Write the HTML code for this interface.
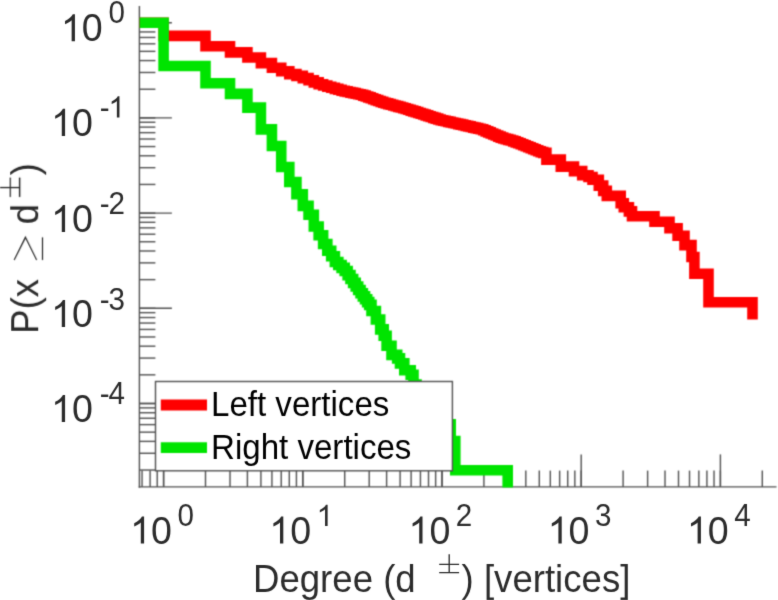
<!DOCTYPE html>
<html><head><meta charset="utf-8"><title>Degree distribution</title>
<style>
html,body{margin:0;padding:0;background:#fff;}
body{width:778px;height:600px;overflow:hidden;}
svg{display:block;}
text{font-family:"Liberation Sans",sans-serif;}
</style></head><body>
<svg width="778" height="600" viewBox="0 0 778 600">
<defs><filter id="soft" x="-5%" y="-5%" width="110%" height="110%" color-interpolation-filters="sRGB"><feConvolveMatrix order="3" kernelMatrix="0.03607 0.11778 0.03607 0.11778 0.38462 0.11778 0.03607 0.11778 0.03607" edgeMode="none" preserveAlpha="false"/></filter><filter id="softT" x="-5%" y="-5%" width="110%" height="110%" color-interpolation-filters="sRGB"><feConvolveMatrix order="3" kernelMatrix="0.01134 0.08382 0.01134 0.08382 0.61935 0.08382 0.01134 0.08382 0.01134" edgeMode="none" preserveAlpha="false"/></filter><clipPath id="plot"><rect x="139.4" y="0" width="638.6" height="487.5"/></clipPath></defs>
<rect x="0" y="0" width="778" height="600" fill="#fff"/>
<g filter="url(#soft)">
<g stroke="#505050" stroke-width="1.4" fill="none">
<line x1="139.40" x2="171.90" y1="22.70" y2="22.70"/>
<line x1="139.40" x2="171.90" y1="117.90" y2="117.90"/>
<line x1="139.40" x2="171.90" y1="213.10" y2="213.10"/>
<line x1="139.40" x2="171.90" y1="308.30" y2="308.30"/>
<line x1="139.40" x2="171.90" y1="403.50" y2="403.50"/>
<line x1="139.40" x2="155.40" y1="22.70" y2="22.70"/>
<line x1="139.40" x2="155.40" y1="117.90" y2="117.90"/>
<line x1="139.40" x2="155.40" y1="89.24" y2="89.24"/>
<line x1="139.40" x2="155.40" y1="72.48" y2="72.48"/>
<line x1="139.40" x2="155.40" y1="60.58" y2="60.58"/>
<line x1="139.40" x2="155.40" y1="51.36" y2="51.36"/>
<line x1="139.40" x2="155.40" y1="43.82" y2="43.82"/>
<line x1="139.40" x2="155.40" y1="37.45" y2="37.45"/>
<line x1="139.40" x2="155.40" y1="31.93" y2="31.93"/>
<line x1="139.40" x2="155.40" y1="27.06" y2="27.06"/>
<line x1="139.40" x2="155.40" y1="213.10" y2="213.10"/>
<line x1="139.40" x2="155.40" y1="184.44" y2="184.44"/>
<line x1="139.40" x2="155.40" y1="167.68" y2="167.68"/>
<line x1="139.40" x2="155.40" y1="155.78" y2="155.78"/>
<line x1="139.40" x2="155.40" y1="146.56" y2="146.56"/>
<line x1="139.40" x2="155.40" y1="139.02" y2="139.02"/>
<line x1="139.40" x2="155.40" y1="132.65" y2="132.65"/>
<line x1="139.40" x2="155.40" y1="127.13" y2="127.13"/>
<line x1="139.40" x2="155.40" y1="122.26" y2="122.26"/>
<line x1="139.40" x2="155.40" y1="308.30" y2="308.30"/>
<line x1="139.40" x2="155.40" y1="279.64" y2="279.64"/>
<line x1="139.40" x2="155.40" y1="262.88" y2="262.88"/>
<line x1="139.40" x2="155.40" y1="250.98" y2="250.98"/>
<line x1="139.40" x2="155.40" y1="241.76" y2="241.76"/>
<line x1="139.40" x2="155.40" y1="234.22" y2="234.22"/>
<line x1="139.40" x2="155.40" y1="227.85" y2="227.85"/>
<line x1="139.40" x2="155.40" y1="222.33" y2="222.33"/>
<line x1="139.40" x2="155.40" y1="217.46" y2="217.46"/>
<line x1="139.40" x2="155.40" y1="403.50" y2="403.50"/>
<line x1="139.40" x2="155.40" y1="374.84" y2="374.84"/>
<line x1="139.40" x2="155.40" y1="358.08" y2="358.08"/>
<line x1="139.40" x2="155.40" y1="346.18" y2="346.18"/>
<line x1="139.40" x2="155.40" y1="336.96" y2="336.96"/>
<line x1="139.40" x2="155.40" y1="329.42" y2="329.42"/>
<line x1="139.40" x2="155.40" y1="323.05" y2="323.05"/>
<line x1="139.40" x2="155.40" y1="317.53" y2="317.53"/>
<line x1="139.40" x2="155.40" y1="312.66" y2="312.66"/>
<line x1="139.40" x2="155.40" y1="470.04" y2="470.04"/>
<line x1="139.40" x2="155.40" y1="453.28" y2="453.28"/>
<line x1="139.40" x2="155.40" y1="441.38" y2="441.38"/>
<line x1="139.40" x2="155.40" y1="432.16" y2="432.16"/>
<line x1="139.40" x2="155.40" y1="424.62" y2="424.62"/>
<line x1="139.40" x2="155.40" y1="418.25" y2="418.25"/>
<line x1="139.40" x2="155.40" y1="412.73" y2="412.73"/>
<line x1="139.40" x2="155.40" y1="407.86" y2="407.86"/>
<line x1="163.60" x2="163.60" y1="486.90" y2="454.40"/>
<line x1="302.80" x2="302.80" y1="486.90" y2="454.40"/>
<line x1="442.00" x2="442.00" y1="486.90" y2="454.40"/>
<line x1="581.20" x2="581.20" y1="486.90" y2="454.40"/>
<line x1="720.40" x2="720.40" y1="486.90" y2="454.40"/>
<line x1="142.04" x2="142.04" y1="486.90" y2="470.60"/>
<line x1="150.11" x2="150.11" y1="486.90" y2="470.60"/>
<line x1="157.23" x2="157.23" y1="486.90" y2="470.60"/>
<line x1="163.60" x2="163.60" y1="486.90" y2="470.60"/>
<line x1="205.50" x2="205.50" y1="486.90" y2="470.60"/>
<line x1="230.02" x2="230.02" y1="486.90" y2="470.60"/>
<line x1="247.41" x2="247.41" y1="486.90" y2="470.60"/>
<line x1="260.90" x2="260.90" y1="486.90" y2="470.60"/>
<line x1="271.92" x2="271.92" y1="486.90" y2="470.60"/>
<line x1="281.24" x2="281.24" y1="486.90" y2="470.60"/>
<line x1="289.31" x2="289.31" y1="486.90" y2="470.60"/>
<line x1="296.43" x2="296.43" y1="486.90" y2="470.60"/>
<line x1="302.80" x2="302.80" y1="486.90" y2="470.60"/>
<line x1="344.70" x2="344.70" y1="486.90" y2="470.60"/>
<line x1="369.22" x2="369.22" y1="486.90" y2="470.60"/>
<line x1="386.61" x2="386.61" y1="486.90" y2="470.60"/>
<line x1="400.10" x2="400.10" y1="486.90" y2="470.60"/>
<line x1="411.12" x2="411.12" y1="486.90" y2="470.60"/>
<line x1="420.44" x2="420.44" y1="486.90" y2="470.60"/>
<line x1="428.51" x2="428.51" y1="486.90" y2="470.60"/>
<line x1="435.63" x2="435.63" y1="486.90" y2="470.60"/>
<line x1="442.00" x2="442.00" y1="486.90" y2="470.60"/>
<line x1="483.90" x2="483.90" y1="486.90" y2="470.60"/>
<line x1="508.42" x2="508.42" y1="486.90" y2="470.60"/>
<line x1="525.81" x2="525.81" y1="486.90" y2="470.60"/>
<line x1="539.30" x2="539.30" y1="486.90" y2="470.60"/>
<line x1="550.32" x2="550.32" y1="486.90" y2="470.60"/>
<line x1="559.64" x2="559.64" y1="486.90" y2="470.60"/>
<line x1="567.71" x2="567.71" y1="486.90" y2="470.60"/>
<line x1="574.83" x2="574.83" y1="486.90" y2="470.60"/>
<line x1="581.20" x2="581.20" y1="486.90" y2="470.60"/>
<line x1="623.10" x2="623.10" y1="486.90" y2="470.60"/>
<line x1="647.62" x2="647.62" y1="486.90" y2="470.60"/>
<line x1="665.01" x2="665.01" y1="486.90" y2="470.60"/>
<line x1="678.50" x2="678.50" y1="486.90" y2="470.60"/>
<line x1="689.52" x2="689.52" y1="486.90" y2="470.60"/>
<line x1="698.84" x2="698.84" y1="486.90" y2="470.60"/>
<line x1="706.91" x2="706.91" y1="486.90" y2="470.60"/>
<line x1="714.03" x2="714.03" y1="486.90" y2="470.60"/>
<line x1="720.40" x2="720.40" y1="486.90" y2="470.60"/>
<line x1="762.30" x2="762.30" y1="486.90" y2="470.60"/>
<line x1="139.4" x2="139.4" y1="6.0" y2="487.65"/>
<line x1="138.65" x2="776.5" y1="486.9" y2="486.9"/>
</g>
<g clip-path="url(#plot)" fill="none" stroke-width="10.6" stroke-linejoin="miter" stroke-linecap="butt">
<path d="M139.40 22.70 V22.70 H163.60 V35.90 H205.50 V46.20 H230.02 V52.40 H247.41 V57.50 H260.90 V63.10 H271.92 V67.80 H281.24 V71.30 H289.31 V74.11 H296.43 V75.90 H302.80 V78.12 H308.56 V80.32 H313.82 V82.33 H318.66 V84.18 H323.14 V85.53 H327.31 V86.70 H331.21 V87.80 H334.88 V88.84 H338.33 V89.82 H341.60 V90.69 H344.70 V91.35 H347.65 V91.98 H350.47 V92.59 H353.15 V93.16 H355.73 V93.72 H358.23 V94.27 H360.73 V94.82 H363.23 V95.60 H365.73 V96.50 H368.23 V97.40 H370.73 V98.30 H373.23 V99.19 H375.73 V100.09 H378.23 V100.99 H380.73 V101.89 H383.23 V102.70 H385.73 V103.39 H388.23 V104.08 H390.73 V104.77 H393.23 V105.46 H395.73 V106.16 H398.23 V106.85 H400.73 V107.54 H403.23 V108.25 H405.73 V109.03 H408.23 V109.82 H410.73 V110.60 H413.23 V111.38 H415.73 V112.16 H418.23 V112.95 H420.73 V113.75 H423.23 V114.57 H425.73 V115.38 H428.23 V116.20 H430.73 V117.02 H433.23 V117.83 H435.73 V118.65 H438.23 V119.47 H440.73 V120.20 H443.23 V120.75 H445.73 V121.31 H448.23 V121.87 H450.73 V122.43 H453.23 V122.99 H455.73 V123.54 H458.23 V124.10 H460.73 V124.66 H463.23 V125.25 H465.73 V125.83 H468.23 V126.41 H470.73 V126.99 H473.23 V127.58 H475.73 V128.16 H478.23 V128.74 H480.73 V129.32 H483.23 V130.31 H485.73 V131.36 H488.23 V132.41 H490.73 V133.46 H493.23 V134.51 H495.73 V135.56 H498.23 V136.61 H500.73 V137.65 H503.23 V138.46 H505.73 V139.16 H508.23 V139.85 H510.73 V140.54 H513.23 V141.40 H515.73 V142.36 H518.23 V143.32 H520.73 V144.27 H523.23 V145.23 H525.73 V146.22 H528.23 V147.23 H530.73 V148.25 H533.23 V149.25 H535.73 V150.25 H538.23 V151.25 H540.73 V152.16 H543.23 V152.92 H546.40 V159.60 H560.80 V166.60 H574.00 V171.10 H582.20 V175.20 H588.50 V177.00 H592.50 V179.80 H598.80 V185.60 H603.20 V190.90 H606.80 V195.90 H620.70 V203.20 H623.80 V207.30 H628.90 V211.40 H632.00 V216.30 H654.50 V221.80 H669.50 V228.20 H677.60 V235.80 H684.50 V245.10 H691.50 V257.00 H694.40 V273.70 H708.50 V302.30 H752.50 V319.60" stroke="#ff0000"/>
<path d="M139.40 22.70 V22.70 H163.60 V66.00 H205.50 V83.20 H230.02 V93.90 H247.41 V107.60 H260.90 V129.40 H271.92 V146.00 H281.24 V167.00 H289.31 V182.00 H296.43 V194.20 H302.80 V205.90 H308.56 V214.80 H313.82 V226.50 H318.66 V235.30 H323.14 V244.00 H327.31 V250.70 H331.21 V256.30 H334.88 V262.03 H338.33 V265.04 H341.60 V267.90 H344.70 V270.97 H347.65 V275.12 H350.47 V279.07 H353.15 V282.85 H355.73 V286.47 H358.19 V289.95 H360.56 V293.28 H362.85 V296.33 H365.04 V299.27 H367.17 V302.11 H369.22 V304.85 H371.50 V311.00 H375.90 V319.50 H380.20 V329.40 H383.70 V335.80 H386.60 V345.70 H391.50 V354.90 H397.20 V358.40 H400.00 V363.40 H404.30 V370.20 H410.70 V374.70 H413.50 V384.60 H416.50 V392.00 H425.00 V404.00 H433.00 V412.00 H442.00 V424.30 H450.70 V441.00 H455.30 V470.20 H507.70 V495.00" stroke="#00e400"/>
</g>
<!-- legend -->
<rect x="155.5" y="381.5" width="296.9" height="89.3" fill="#fff" stroke="#505050" stroke-width="1.4"/>
<line x1="160.8" x2="207" y1="405" y2="405" stroke="#ff0000" stroke-width="10.8"/>
<line x1="160.8" x2="207" y1="447.6" y2="447.6" stroke="#00e400" stroke-width="10.8"/>
</g>
<g filter="url(#softT)">
<g fill="#2c2c2c">
<path transform="translate(60.93 41.20) scale(0.01836 -0.01836)" d="M763 0H583V1147Q518 1085 412.5 1023T223 930V1104Q374 1175 487 1276T647 1472H763Z"/>
<text transform="translate(81.84 41.20) scale(1 1.040)" font-size="37.6">0</text>
<text transform="translate(108.44 23.10) scale(1 1.040)" font-size="29.6">0</text>
<path transform="translate(51.07 135.90) scale(0.01836 -0.01836)" d="M763 0H583V1147Q518 1085 412.5 1023T223 930V1104Q374 1175 487 1276T647 1472H763Z"/>
<text transform="translate(71.98 135.90) scale(1 1.040)" font-size="37.6">0</text>
<text transform="translate(99.79 117.50) scale(1 1.040)" font-size="29.6">-</text>
<path transform="translate(108.44 117.50) scale(0.01445 -0.01445)" d="M763 0H583V1147Q518 1085 412.5 1023T223 930V1104Q374 1175 487 1276T647 1472H763Z"/>
<path transform="translate(51.07 232.00) scale(0.01836 -0.01836)" d="M763 0H583V1147Q518 1085 412.5 1023T223 930V1104Q374 1175 487 1276T647 1472H763Z"/>
<text transform="translate(71.98 232.00) scale(1 1.040)" font-size="37.6">0</text>
<text transform="translate(99.79 214.00) scale(1 1.040)" font-size="29.6">-</text>
<text transform="translate(108.44 214.00) scale(1 1.040)" font-size="29.6">2</text>
<path transform="translate(51.07 327.10) scale(0.01836 -0.01836)" d="M763 0H583V1147Q518 1085 412.5 1023T223 930V1104Q374 1175 487 1276T647 1472H763Z"/>
<text transform="translate(71.98 327.10) scale(1 1.040)" font-size="37.6">0</text>
<text transform="translate(99.79 309.50) scale(1 1.040)" font-size="29.6">-</text>
<text transform="translate(108.44 309.50) scale(1 1.040)" font-size="29.6">3</text>
<path transform="translate(51.07 422.10) scale(0.01836 -0.01836)" d="M763 0H583V1147Q518 1085 412.5 1023T223 930V1104Q374 1175 487 1276T647 1472H763Z"/>
<text transform="translate(71.98 422.10) scale(1 1.040)" font-size="37.6">0</text>
<text transform="translate(99.79 403.70) scale(1 1.040)" font-size="29.6">-</text>
<text transform="translate(108.44 403.70) scale(1 1.040)" font-size="29.6">4</text>
<path transform="translate(130.10 543.50) scale(0.01836 -0.01836)" d="M763 0H583V1147Q518 1085 412.5 1023T223 930V1104Q374 1175 487 1276T647 1472H763Z"/>
<text transform="translate(151.01 543.50) scale(1 1.040)" font-size="37.6">0</text>
<text transform="translate(177.41 525.90) scale(1 1.040)" font-size="29.6">0</text>
<path transform="translate(269.30 543.50) scale(0.01836 -0.01836)" d="M763 0H583V1147Q518 1085 412.5 1023T223 930V1104Q374 1175 487 1276T647 1472H763Z"/>
<text transform="translate(290.21 543.50) scale(1 1.040)" font-size="37.6">0</text>
<path transform="translate(316.61 525.90) scale(0.01445 -0.01445)" d="M763 0H583V1147Q518 1085 412.5 1023T223 930V1104Q374 1175 487 1276T647 1472H763Z"/>
<path transform="translate(408.50 543.50) scale(0.01836 -0.01836)" d="M763 0H583V1147Q518 1085 412.5 1023T223 930V1104Q374 1175 487 1276T647 1472H763Z"/>
<text transform="translate(429.41 543.50) scale(1 1.040)" font-size="37.6">0</text>
<text transform="translate(455.81 525.90) scale(1 1.040)" font-size="29.6">2</text>
<path transform="translate(547.70 543.50) scale(0.01836 -0.01836)" d="M763 0H583V1147Q518 1085 412.5 1023T223 930V1104Q374 1175 487 1276T647 1472H763Z"/>
<text transform="translate(568.61 543.50) scale(1 1.040)" font-size="37.6">0</text>
<text transform="translate(595.01 525.90) scale(1 1.040)" font-size="29.6">3</text>
<path transform="translate(686.90 543.50) scale(0.01836 -0.01836)" d="M763 0H583V1147Q518 1085 412.5 1023T223 930V1104Q374 1175 487 1276T647 1472H763Z"/>
<text transform="translate(707.81 543.50) scale(1 1.040)" font-size="37.6">0</text>
<text transform="translate(734.21 525.90) scale(1 1.040)" font-size="29.6">4</text>
</g>
<!-- x label -->
<g fill="#2c2c2c">
<text transform="translate(253.00 592.20) scale(1 1.040)" font-size="36.6">Degree (d</text>
<text transform="translate(461.60 592.20) scale(1 1.040)" font-size="36.6">) [vertices]</text>
</g>
<g stroke="#2c2c2c" stroke-width="1.35" fill="none">
<path d="M439.2 564.3H459.1M439.2 572.6H459.1M449.2 554.3V572.6"/>
</g>
<!-- y label -->
<g transform="translate(38.2 333.8) rotate(-90)">
<g fill="#2c2c2c">
<text transform="translate(0.00 0.00) scale(1 1.040)" font-size="36.6">P(x</text>
<text transform="translate(109.50 0.00) scale(1 1.040)" font-size="36.6">d</text>
<text transform="translate(158.50 0.00) scale(1 1.040)" font-size="36.6">)</text>
</g>
<g stroke="#2c2c2c" stroke-width="1.35" fill="none">
<path d="M73.8 -24 L96.5 -12.7 L73.8 -1.5 M73.8 4.3 H96.5"/>
<path d="M136.8 -27.9H156.3M136.8 -18.5H156.3M146.3 -38.2V-18.5"/>
</g>
</g>
<g fill="#000">
<text transform="translate(211.00 415.80) scale(1 1.040)" font-size="33.1">Left vertices</text>
<text transform="translate(211.00 458.90) scale(1 1.040)" font-size="33.1">Right vertices</text>
</g>
</g>
</svg>
</body></html>
